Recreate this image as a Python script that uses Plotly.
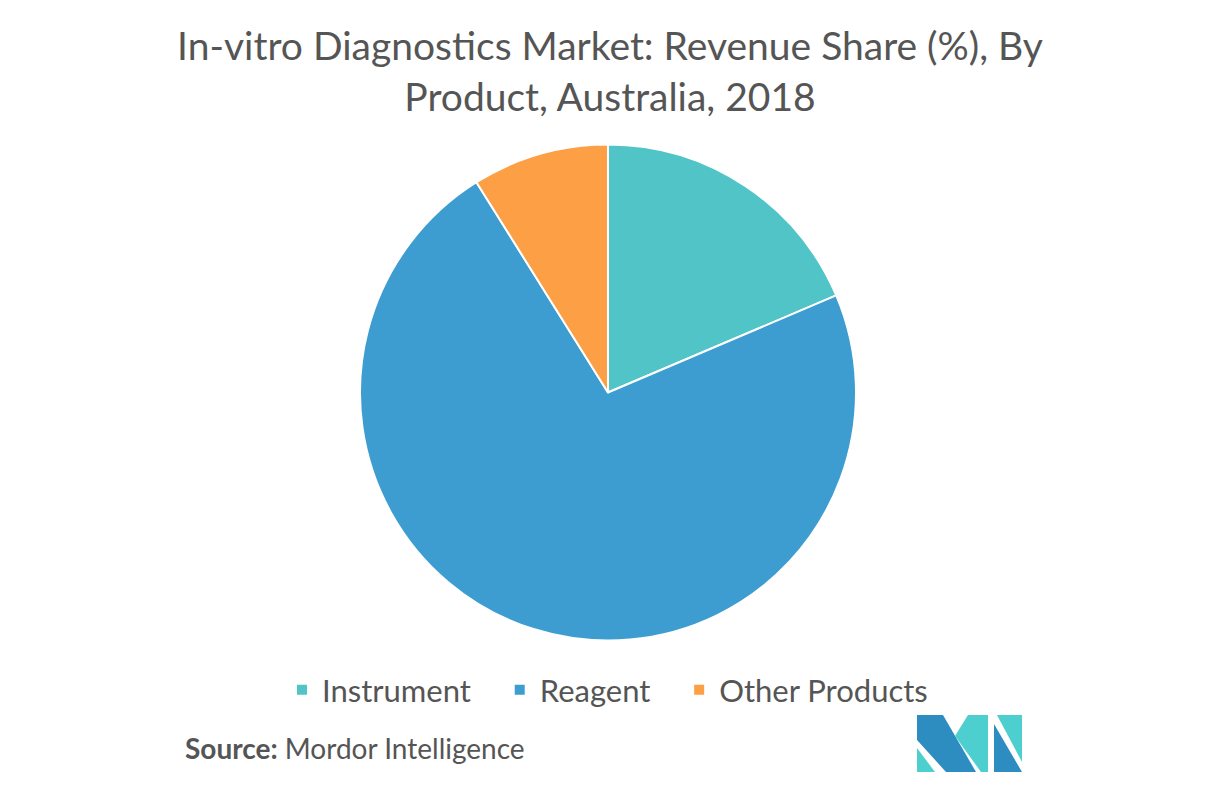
import plotly.graph_objects as go

# Data
products = ['Instrument', 'Reagent', 'Other Products']
shares = [18.6, 72.5, 8.9]
colors = ['#50C4C7', '#3D9DD0', '#FD9F45']

W, H = 1217, 785
OFF = 8  # page body margin


def px_x(x):
    return (x - OFF) / W


def px_y(y):
    return 1 - (y - OFF) / H


# non-breaking padding so legend entries sit further apart
legend_labels = [p + '\u00a0' * 3 for p in products[:-1]] + [products[-1]]

fig = go.Figure()

fig.add_trace(
    go.Pie(
        labels=legend_labels,
        values=shares,
        sort=False,
        direction='clockwise',
        rotation=0,
        textinfo='none',
        hovertemplate='%{label}: %{percent}<extra></extra>',
        marker=dict(colors=colors, line=dict(color='white', width=2)),
        domain=dict(x=[px_x(360), px_x(856)], y=[px_y(641), px_y(144)]),
    )
)

# Mordor-style logo drawn with shapes (pixel -> paper)
def poly(points, color):
    path = 'M ' + ' L '.join(f'{px_x(x):.5f},{px_y(y):.5f}' for x, y in points) + ' Z'
    return dict(type='path', path=path, xref='paper', yref='paper',
                fillcolor=color, line=dict(width=0), layer='above')

dark = '#2E8DC0'
light = '#4DCFD0'
shapes = [
    poly([(917, 715), (943, 715), (976, 772), (946, 772), (917, 740)], dark),
    poly([(917, 748), (917, 772), (935, 772)], light),
    poly([(968, 715), (988, 715), (988, 772), (981, 772), (955, 736)], light),
    poly([(994, 724), (994, 772), (1022, 772)], dark),
    poly([(997, 715), (1022, 715), (1022, 762)], light),
]

fig.update_layout(
    width=W,
    height=H,
    margin=dict(l=0, r=0, t=0, b=0),
    paper_bgcolor='white',
    plot_bgcolor='white',
    font=dict(family='Lato, Open Sans, sans-serif', color='#555555'),
    title=dict(
        text='In-vitro Diagnostics Market: Revenue Share (%), By<br>Product, Australia, 2018',
        x=px_x(610),
        xanchor='center',
        y=px_y(60),
        yanchor='middle',
        font=dict(size=39, color='#555555', family='Lato, sans-serif'),
    ),
    showlegend=True,
    legend=dict(
        orientation='h',
        x=px_x(282),
        xanchor='left',
        y=px_y(690),
        yanchor='middle',
        bgcolor='rgba(0,0,0,0)',
        font=dict(size=31, color='#555555'),
        traceorder='normal',
    ),
    shapes=shapes,
    annotations=[
        dict(
            text='<b>Source:</b> Mordor Intelligence',
            x=px_x(183),
            y=px_y(748),
            xref='paper',
            yref='paper',
            xanchor='left',
            yanchor='middle',
            showarrow=False,
            font=dict(size=28, color='#555555'),
        )
    ],
)

fig.write_html('out.html')
